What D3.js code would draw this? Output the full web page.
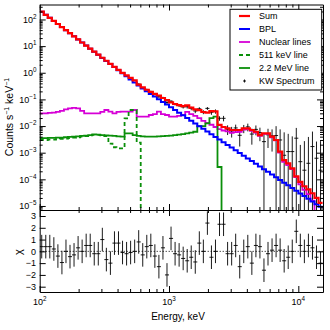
<!DOCTYPE html>
<html>
<head>
<meta charset="utf-8">
<script src="https://cdn.jsdelivr.net/npm/d3@7"></script>
<style>
body { margin: 0; background: #fff; }
svg { display: block; font-family: "Liberation Sans", Arial, sans-serif; }
</style>
</head>
<body>
<div id="chart"></div>
<script>
// energy channel edges, keV
var binEdges = [100, 107.5, 115.5, 124.1, 133.4, 143.3, 154.0, 165.5, 177.8, 191.1,
    205.4, 220.7, 237.1, 254.8, 273.8, 294.3, 316.2, 339.8, 365.2, 392.4,
    421.7, 453.2, 487.0, 523.3, 562.3, 604.3, 649.4, 697.8, 749.9, 805.8,
    866.0, 930.6, 1000, 1075, 1155, 1241, 1334, 1433, 1540, 1655,
    1778, 1911, 2054, 2207, 2371, 2548, 2738, 2943, 3162, 3398,
    3652, 3924, 4217, 4532, 4870, 5233, 5623, 6043, 6494, 6978,
    7499, 8058, 8660, 9306, 10000, 10746, 11548, 12409, 13335, 14330, 15399];

// model components, counts s^-1 keV^-1 per channel
var sumModel = [196, 150, 115, 88.3, 67.7, 51.9, 39.7, 30.6, 23.4, 17.9,
    13.7, 10.5, 8.08, 6.20, 4.76, 3.66, 2.82, 2.16, 1.66, 1.29,
    0.994, 0.793, 0.641, 0.515, 0.359, 0.284, 0.230, 0.191, 0.160, 0.140,
    0.113, 0.094, 0.0774, 0.0671, 0.0605, 0.0562, 0.0593, 0.0495, 0.0426, 0.0399,
    0.0336, 0.032, 0.0361, 0.0356, 0.011, 0.0092, 0.0082, 0.0071, 0.0071, 0.0071,
    0.0082, 0.0082, 0.0071, 0.0061, 0.0046, 0.0053, 0.0053, 0.0040, 0.0030, 0.00109,
    0.00053, 0.00040, 0.00026, 0.00013, 8.0e-5, 5.5e-5, 4.2e-5, 3.0e-5, 2.0e-5, 1.3e-5];

var bplModel = [196, 150, 115, 88.3, 67.7, 51.9, 39.7, 30.5, 23.3, 17.9,
    13.7, 10.5, 8.04, 6.16, 4.72, 3.62, 2.77, 2.12, 1.63, 1.25,
    0.955, 0.733, 0.561, 0.430, 0.330, 0.257, 0.204, 0.161, 0.128, 0.101,
    0.0804, 0.0637, 0.0505, 0.0400, 0.0317, 0.0252, 0.0200, 0.0158, 0.0125, 0.00993,
    0.00787, 0.00624, 0.00494, 0.00392, 0.00310, 0.00246, 0.00195, 0.00155, 0.00123, 9.7e-4,
    7.7e-4, 6.1e-4, 4.84e-4, 3.84e-4, 3.04e-4, 2.41e-4, 1.91e-4, 1.51e-4, 1.20e-4, 9.5e-5,
    7.5e-5, 5.97e-5, 4.73e-5, 3.75e-5, 2.97e-5, 2.36e-5, 1.87e-5, 1.48e-5, 1.17e-5, 9.3e-6];

var nuclearModel = [0.030, 0.030, 0.031, 0.032, 0.034, 0.037, 0.042, 0.046, 0.048, 0.046,
    0.037, 0.030, 0.030, 0.030, 0.030, 0.034, 0.040, 0.035, 0.030, 0.034,
    0.035, 0.035, 0.035, 0.040, 0.0225, 0.0225, 0.0225, 0.026, 0.028, 0.035,
    0.028, 0.026, 0.0225, 0.0225, 0.024, 0.026, 0.034, 0.028, 0.024, 0.020,
    0.0157, 0.0131, 0.0112, 0.0092, 0.0076, 0.0068, 0.0063, 0.0056, 0.0059, 0.0061,
    0.0074, 0.0076, 0.0066, 0.0057, 0.0043, 0.0051, 0.0051, 0.0038, 0.0029, 0.0010,
    0.00045, 0.00034, 0.00024, 0.00012, 6.5e-5, 4.0e-5, 2.8e-5, 1.6e-5, null, null];

var line511 = [0.0030, 0.0030, 0.0031, 0.0031, 0.0032, 0.0033, 0.0034, 0.0035, 0.0037, 0.0038,
    0.0040, 0.0042, 0.0045, 0.0047, 0.0047, 0.0045, 0.0042, 0.0022, 0.0016, 0.00146,
    0.00146, 0.0195, 0.040, 0.040, 0.0024, null];

var line2200 = [0.0035, 0.0035, 0.0036, 0.0036, 0.0037, 0.0037, 0.0038, 0.0039, 0.0040, 0.0041,
    0.0043, 0.0044, 0.0046, 0.0049, 0.0048, 0.0046, 0.0045, 0.0044, 0.0043, 0.0041,
    0.0040, 0.0053, 0.0053, 0.0046, 0.0043, 0.0041, 0.0040, 0.0040, 0.0040, 0.0041,
    0.0042, 0.0043, 0.0044, 0.0046, 0.0048, 0.0050, 0.0053, 0.0057, 0.0061, 0.010,
    0.010, 0.0127, 0.020, 0.0225, 0.00029, null];

// measured spectrum and 1-sigma errors
var kwCounts = [197, 151, 116, 88.6, 67.3, 51.1, 39.7, 30.3, 23.3, 18.0,
    13.7, 10.6, 8.18, 6.17, 4.73, 3.77, 2.76, 2.09, 1.70, 1.32,
    0.99, 0.786, 0.638, 0.515, 0.375, 0.279, 0.236, 0.198, 0.155, 0.125,
    0.116, 0.077, 0.0855, 0.0658, 0.0585, 0.0522, 0.0531, 0.0460, 0.0368, 0.0444,
    0.0336, 0.046, 0.0329, 0.0356, 0.0195, 0.0195, 0.0076, 0.0065, 0.0085, 0.0045,
    0.0082, 0.0093, 0.0050, 0.0075, 0.0057, 0.0026, 0.0047, 0.0043, 0.0044, 0.0030,
    0.0008, 0.0011, 0.0011, 0.0035, 0.00046, 0.00022, 0.0004, 0.0017, 0.00062, 0.00022];

var kwErrors = [3, 2.3, 1.8, 1.3, 1.1, 0.9, 0.7, 0.58, 0.47, 0.38,
    0.30, 0.24, 0.19, 0.155, 0.13, 0.106, 0.087, 0.071, 0.058, 0.048,
    0.040, 0.034, 0.029, 0.026, 0.020, 0.017, 0.015, 0.0134, 0.012, 0.0112,
    0.0096, 0.0085, 0.0074, 0.0067, 0.0067, 0.0067, 0.0077, 0.0069, 0.0064, 0.0064,
    0.0057, 0.0058, 0.0065, 0.0065, 0.0037, 0.0045, 0.0030, 0.0028, 0.0028, 0.0028,
    0.0028, 0.0030, 0.0030, 0.0030, 0.0030, 0.0030, 0.0032, 0.0032, 0.0055, 0.0045,
    0.0050, 0.0040, 0.0030, 0.0050, 0.0015, 0.0025, 0.0035, 0.0045, 0.0020, 0.0025];

var chiValues = [0.4, 0.4, 0.4, 0.2, -0.4, -0.95, 0, -0.45, -0.3, 0.3,
    0, 0.5, 0.5, -0.2, -0.2, 1.0, -0.7, -1.0, 0.7, 0.7,
    -0.1, -0.2, -0.1, 0, 0.8, -0.3, 0.4, 0.5, -0.4, -1.3,
    0.3, -2.0, 1.1, -0.2, -0.3, -0.6, -0.8, -0.5, -0.9, 0.7,
    0, 2.4, -0.5, 0, 2.3, 2.3, -0.2, -0.2, 0.5, -1.3,
    0, 0.4, -1.0, 0.5, 0.4, -1.6, -0.2, 0.1, 0.5, 0.1,
    -0.8, -0.5, 0, 1.7, 0.5, 0, 0.5, 0.3, -0.5, -1.0];

var xLabelTicks = [100, 1000, 10000];
var yLabelTicks = [1e2, 1e1, 1e0, 1e-1, 1e-2, 1e-3, 1e-4, 1e-5];
var chiTicks = [-3, -2, -1, 0, 1, 2, 3];

var legendItems = [
    {name: 'Sum', color: '#ff0000', dash: null, width: 2.2},
    {name: 'BPL', color: '#0000ff', dash: null, width: 2},
    {name: 'Nuclear lines', color: '#d600d6', dash: null, width: 1.8},
    {name: '511 keV line', color: '#0a8f0a', dash: '4,3', width: 1.8},
    {name: '2.2 MeV line', color: '#0a8f0a', dash: null, width: 1.8},
    {name: 'KW Spectrum', color: '#000', marker: true}
];

var width = 330, height = 330;
var plotLeft = 39.7, plotRight = 323, plotTop = 4.5, plotMid = 210, plotBottom = 292;

var svg = d3.select('#chart').append('svg')
    .attr('width', width)
    .attr('height', height);

var x = d3.scaleLog().domain([100, 15520]).range([plotLeft, plotRight]);
var y = d3.scaleLog().domain([7.06e-6, 365]).range([plotMid, plotTop]);
var yChi = d3.scaleLinear().domain([-3.45, 3.51]).range([plotBottom, plotMid]);

function isDecade(v) {
    var l = Math.log10(v);
    return Math.abs(l - Math.round(l)) < 1e-6;
}
function binCenter(i) { return Math.sqrt(binEdges[i] * binEdges[i + 1]); }

var defs = svg.append('defs');
defs.append('clipPath').attr('id', 'clip-top').append('rect')
    .attr('x', plotLeft).attr('y', plotTop)
    .attr('width', plotRight - plotLeft).attr('height', plotMid - plotTop);
defs.append('clipPath').attr('id', 'clip-bottom').append('rect')
    .attr('x', plotLeft).attr('y', plotMid)
    .attr('width', plotRight - plotLeft).attr('height', plotBottom - plotMid);

var topPanel = svg.append('g').attr('clip-path', 'url(#clip-top)');
var bottomPanel = svg.append('g').attr('clip-path', 'url(#clip-bottom)');

function yClamp(v) { return v > 0 ? y(v) : plotMid + 20; }

// KW spectrum points (drawn first, models on top)
var pts = topPanel.selectAll('.kw').data(kwCounts).enter().append('g').attr('class', 'kw');
pts.append('line')
    .attr('x1', function(d, i) { return x(binEdges[i]); })
    .attr('x2', function(d, i) { return x(binEdges[i + 1]); })
    .attr('y1', function(d) { return yClamp(d); })
    .attr('y2', function(d) { return yClamp(d); })
    .attr('stroke', '#000').attr('stroke-width', 0.9);
pts.append('line')
    .attr('x1', function(d, i) { return x(binCenter(i)); })
    .attr('x2', function(d, i) { return x(binCenter(i)); })
    .attr('y1', function(d, i) { return yClamp(d - kwErrors[i]); })
    .attr('y2', function(d, i) { return yClamp(d + kwErrors[i]); })
    .attr('stroke', '#000').attr('stroke-width', 0.9);

// step histograms
var stepLine = d3.line()
    .x(function(d) { return x(d[0]); })
    .y(function(d) { return yClamp(d[1]); });

function stepPoints(values) {
    var p = [];
    for (var i = 0; i < values.length; i++) {
        if (values[i] == null) { p.push([binEdges[i], 0]); break; }
        p.push([binEdges[i], values[i]]);
        p.push([binEdges[i + 1], values[i]]);
    }
    return p;
}

var models = [
    {values: nuclearModel, item: legendItems[2]},
    {values: line511, item: legendItems[3]},
    {values: line2200, item: legendItems[4]},
    {values: bplModel, item: legendItems[1]},
    {values: sumModel, item: legendItems[0]}
];
models.forEach(function(m) {
    topPanel.append('path')
        .attr('d', stepLine(stepPoints(m.values)))
        .attr('fill', 'none')
        .attr('stroke', m.item.color)
        .attr('stroke-width', m.item.width)
        .attr('stroke-dasharray', m.item.dash);
});

// residuals
bottomPanel.append('line')
    .attr('x1', plotLeft).attr('x2', plotRight)
    .attr('y1', yChi(0)).attr('y2', yChi(0))
    .attr('stroke', '#000').attr('stroke-width', 1).attr('stroke-dasharray', '1,2');
var res = bottomPanel.selectAll('.res').data(chiValues).enter().append('g').attr('class', 'res');
res.append('line')
    .attr('x1', function(d, i) { return x(binEdges[i]); })
    .attr('x2', function(d, i) { return x(binEdges[i + 1]); })
    .attr('y1', function(d) { return yChi(d); })
    .attr('y2', function(d) { return yChi(d); })
    .attr('stroke', '#000').attr('stroke-width', 0.9);
res.append('line')
    .attr('x1', function(d, i) { return x(binCenter(i)); })
    .attr('x2', function(d, i) { return x(binCenter(i)); })
    .attr('y1', function(d) { return yChi(d - 1); })
    .attr('y2', function(d) { return yChi(d + 1); })
    .attr('stroke', '#000').attr('stroke-width', 0.9);

// axes with inward ticks
function xAxis(axisFn, yPos, sign) {
    var g = svg.append('g').attr('transform', 'translate(0,' + yPos + ')')
        .call(axisFn(x).tickSizeOuter(0).tickFormat(''));
    g.selectAll('.tick line').attr('y2', function(d) { return sign * (isDecade(d) ? 6 : 3); });
    g.select('.domain').attr('stroke', '#000');
}
xAxis(d3.axisBottom, plotTop, 1);
xAxis(d3.axisTop, plotMid, -1);
xAxis(d3.axisBottom, plotMid, 1);
xAxis(d3.axisTop, plotBottom, -1);

function yLogAxis(axisFn, xPos, sign) {
    var g = svg.append('g').attr('transform', 'translate(' + xPos + ',0)')
        .call(axisFn(y).tickSizeOuter(0).tickFormat(''));
    g.selectAll('.tick line').attr('x2', function(d) { return sign * (isDecade(d) ? 6 : 3); });
    g.select('.domain').attr('stroke', '#000');
}
yLogAxis(d3.axisRight, plotLeft, 1);
yLogAxis(d3.axisLeft, plotRight, -1);

svg.append('g').attr('transform', 'translate(' + plotLeft + ',0)')
    .call(d3.axisRight(yChi).tickValues(chiTicks).tickSize(6).tickSizeOuter(0).tickFormat(''))
    .select('.domain').attr('stroke', '#000');
svg.append('g').attr('transform', 'translate(' + plotRight + ',0)')
    .call(d3.axisLeft(yChi).tickValues(chiTicks).tickSize(6).tickSizeOuter(0).tickFormat(''))
    .select('.domain').attr('stroke', '#000');

// tick labels
function powerLabel(sel, v) {
    var e = Math.round(Math.log10(v));
    sel.append('tspan').text('10');
    sel.append('tspan').attr('dy', -4).attr('font-size', 6.3)
        .text(e < 0 ? '\u2212' + (-e) : e);
}
xLabelTicks.forEach(function(v) {
    var t = svg.append('text').attr('x', x(v)).attr('y', 305)
        .attr('text-anchor', 'middle').attr('font-size', 9);
    powerLabel(t, v);
});
yLabelTicks.forEach(function(v) {
    var t = svg.append('text').attr('x', 36.5).attr('y', y(v) + 3.3)
        .attr('text-anchor', 'end').attr('font-size', 9);
    powerLabel(t, v);
});
chiTicks.forEach(function(v) {
    svg.append('text').attr('x', 36).attr('y', yChi(v) + 3.3)
        .attr('text-anchor', 'end').attr('font-size', 9)
        .text(v < 0 ? '\u2212' + (-v) : v);
});

// axis titles
svg.append('text').attr('x', 178).attr('y', 320)
    .attr('text-anchor', 'middle').attr('font-size', 10).text('Energy, keV');

var yt = svg.append('text').attr('transform', 'translate(12.5,117) rotate(-90)')
    .attr('text-anchor', 'middle').attr('font-size', 10.5);
yt.append('tspan').text('Counts s');
yt.append('tspan').attr('dy', -4).attr('font-size', 7).text('\u22121');
yt.append('tspan').attr('dy', 4).text(' keV');
yt.append('tspan').attr('dy', -4).attr('font-size', 7).text('\u22121');

svg.append('text').attr('transform', 'translate(21.5,252) rotate(-90)')
    .attr('text-anchor', 'middle').attr('font-size', 11).text('\u03c7');

// legend
var legend = svg.append('g').attr('transform', 'translate(230,9.3)');
legend.append('rect').attr('width', 91.7).attr('height', 80.7)
    .attr('fill', '#fff').attr('stroke', '#000').attr('stroke-width', 1);
var rows = legend.selectAll('.leg').data(legendItems).enter().append('g')
    .attr('class', 'leg')
    .attr('transform', function(d, i) { return 'translate(0,' + (6.7 + i * 13) + ')'; });
rows.filter(function(d) { return !d.marker; }).append('line')
    .attr('x1', 9).attr('x2', 20)
    .attr('stroke', function(d) { return d.color; })
    .attr('stroke-width', function(d) { return d.width; })
    .attr('stroke-dasharray', function(d) { return d.dash; });
var mk = rows.filter(function(d) { return d.marker; });
mk.append('line').attr('x1', 13).attr('x2', 16).attr('stroke', '#000').attr('stroke-width', 0.9);
mk.append('line').attr('x1', 14.5).attr('x2', 14.5).attr('y1', -1.5).attr('y2', 1.5)
    .attr('stroke', '#000').attr('stroke-width', 0.9);
rows.append('text').attr('x', 29).attr('y', 3.2).attr('font-size', 9)
    .text(function(d) { return d.name; });
</script>
</body>
</html>
